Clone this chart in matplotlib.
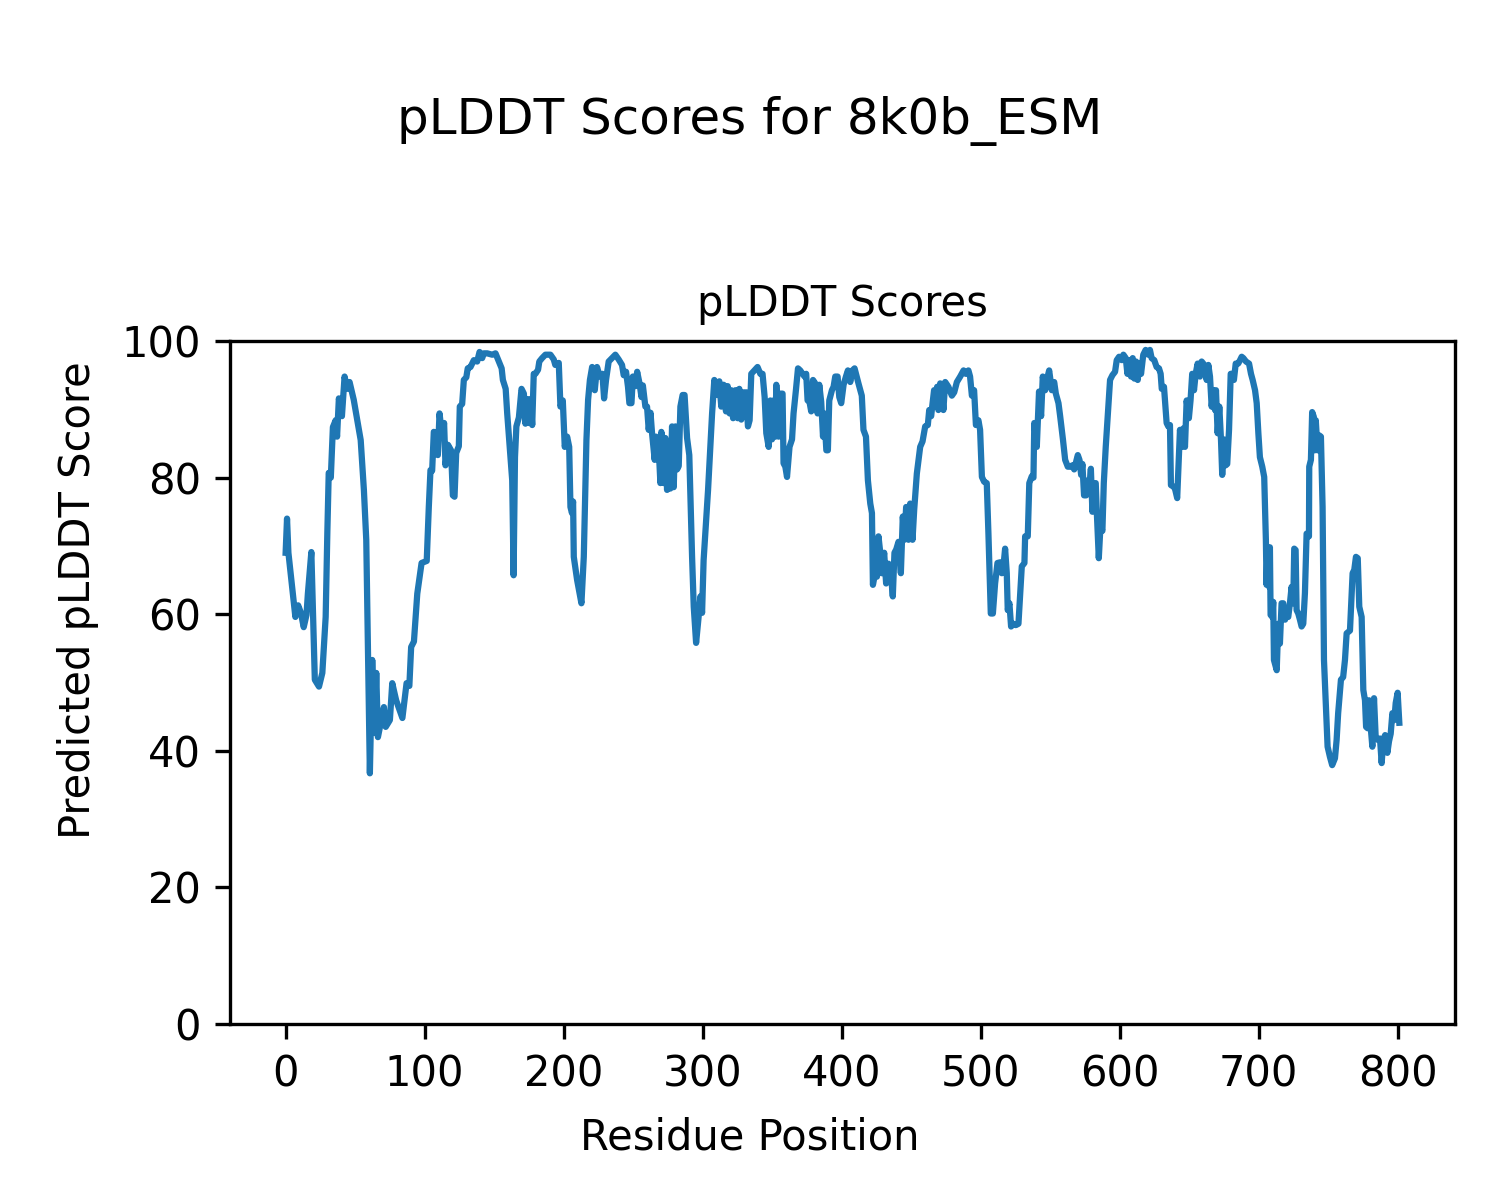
import matplotlib
matplotlib.use("Agg")
import matplotlib.pyplot as plt

# residue positions and pLDDT values
residue = [
    0, 1, 2, 3.6, 7, 9, 11, 13, 15, 16, 18.5, 21, 24, 26.4, 28.8, 30, 31, 32.5, 34, 36,
    37, 38.3, 40.5, 42.4, 44.3, 46, 49, 54, 56.3, 58, 60.6, 62.3, 64, 65.2, 66.4, 70.7, 72, 75, 76.7, 79.5,
    84, 87, 89, 90.3, 92.3, 94.7, 97.8, 101.5, 103, 104.2, 105.4, 106.6, 108, 109.5, 110.7, 112.7, 114, 115, 116.8, 119,
    120.3, 121.5, 122.7, 124.6, 125.3, 127, 128.2, 130, 131, 133, 135.4, 137.8, 139.5, 141.4, 142.6, 145, 148.6, 151, 153.4, 155.4,
    156.3, 158.3, 159.4, 161, 163, 164, 165, 166, 167.8, 169.7, 171.4, 172.5, 173.8, 175, 176.2, 177.4, 178.5, 179.7, 181.6, 182.5,
    184.5, 186.9, 190.5, 192.9, 194, 196.5, 197.7, 199.4, 200.8, 202.5, 204, 204.9, 206, 206.8, 207.3, 209.7, 212.8, 214.5, 216.4, 217.6,
    218.9, 220.5, 222.4, 224, 226, 227.9, 229.1, 230.5, 232.4, 234.8, 237.2, 239.6, 242, 243.2, 244.9, 246.3, 247.3, 248.8, 249.8, 251.7,
    252.9, 254.6, 256, 257, 258.8, 260, 261.2, 262.5, 263.6, 265.5, 266.5, 268.4, 269.6, 270.3, 272, 273.2, 274.4, 275.6, 276.8, 278,
    279.2, 280.4, 281.6, 282.8, 284, 285.6, 287, 288.8, 290.4, 292.4, 293.6, 295.3, 297.1, 298.4, 299.6, 300.7, 303.9, 306.8, 308.4, 310.4,
    312, 313.4, 315.1, 316.8, 318, 319.4, 320.6, 321.9, 323.5, 325.2, 326.4, 327.8, 329, 330.2, 331.2, 332.6, 333.8, 335, 337.2, 339.5,
    341.5, 343.1, 344.6, 345.8, 347.5, 348.7, 349.9, 351, 352.3, 353, 354.7, 355.9, 357.5, 358.2, 359.5, 360.7, 362.5, 364.3, 365.4, 367.1,
    368.6, 370.2, 371.9, 373.3, 374.5, 375.5, 376.7, 378.1, 379.4, 381, 382.7, 383.9, 385.3, 386.6, 387.5, 389, 390.1, 391.1, 393, 394.2,
    395.4, 397.1, 398.3, 399.7, 401.4, 403.1, 404.5, 406.2, 407.8, 409.3, 412.1, 414.5, 415.7, 417.5, 418.9, 420.6, 421.8, 422.5, 424.1, 425.4,
    426.5, 427.8, 429, 430.6, 432, 433.7, 435.4, 436.8, 438, 439.3, 440.9, 442.6, 444, 445.2, 446.4, 448.1, 449.3, 451, 452.2, 454.1,
    456.5, 458.2, 460.1, 462, 463, 464.4, 465.3, 466.5, 467.8, 468.7, 469.6, 470.9, 472, 473.2, 474.5, 476.8, 479.3, 481, 482.9, 485.3,
    487.7, 489.3, 491.2, 492.4, 493.7, 495.3, 496.6, 498.4, 499.6, 500.9, 502.5, 504.4, 505.6, 507.3, 508.8, 510.4, 512.1, 514, 515.2, 516.4,
    517.6, 518.8, 519.5, 520.7, 521.9, 523.6, 525.3, 527.2, 529.6, 531.5, 532, 533.9, 535, 536.8, 538, 538.6, 540.4, 542, 543.5, 544.7,
    546.4, 547.6, 549.3, 551.2, 552.9, 554.1, 556, 557.2, 559.2, 560.8, 562.7, 564.4, 566, 567.3, 568.7, 569.9, 571.1, 572.3, 573.2, 574.4,
    575.9, 577.1, 578, 579.3, 580.4, 581.6, 582.8, 583.6, 585, 586.2, 587.6, 588.6, 590, 591.5, 593.1, 594.8, 596.7, 597.9, 599.6, 601.5,
    602.7, 604.4, 605.6, 606.8, 608.2, 609.4, 610.6, 611.8, 613, 614.2, 615.4, 617, 618.7, 620.6, 621.8, 623, 624.9, 626.6, 628.3, 629.5,
    630.3, 631.9, 632.6, 633.8, 635, 636.2, 636.9, 638.6, 639.8, 641.4, 642.2, 643.4, 644.6, 645.8, 647, 648.2, 649.8, 651, 652.2, 653.5,
    654.7, 656.1, 657.8, 659, 660.2, 661.4, 662.6, 663.8, 665, 666.2, 667.4, 668.6, 669.3, 670.5, 671.7, 672.9, 673.8, 675, 676.3, 677.4,
    678.7, 679.9, 681, 682.2, 683.5, 685.3, 686.6, 687.8, 689, 690.9, 693.1, 694.5, 695.7, 697.4, 698.6, 699.8, 700.9, 702.6, 704, 705.2,
    705.7, 706.4, 707.6, 708.1, 708.6, 709.8, 710.5, 711, 713, 714.1, 715.3, 716.5, 717.7, 719, 720.1, 721.3, 722.5, 723.7, 724.9, 725.6,
    726.6, 727.3, 728.5, 729.7, 730.9, 732.1, 733.3, 734.5, 736.2, 736.4, 737.6, 738.5, 739.7, 740.4, 741.1, 742.4, 743.5, 744.8, 746, 747,
    748.4, 749.6, 751.3, 752.9, 754.9, 756.1, 757.2, 759.2, 760.8, 762.1, 763.3, 765.7, 766.9, 767.6, 768.8, 770, 771.3, 772.4, 774.1, 775.3,
    776.5, 777.3, 778.4, 779.4, 780.6, 781.8, 783, 784.2, 785.7, 787.3, 788.5, 789.7, 791, 792.6, 793.8, 795, 796.2, 797.6, 798.6, 800,
    801.2,
]

plddt = [
    69, 74, 69, 66, 59.6, 61.3, 60.2, 58.1, 59.9, 63, 69.1, 50.4, 49.4, 51.4, 59.6, 71.9, 80.7, 80, 87.4, 88.4,
    86, 91.6, 89, 94.8, 93, 94, 91.4, 85.5, 78.2, 70.9, 36.7, 53.3, 42.6, 51.4, 42, 46.4, 43.5, 44.5, 49.9, 47.4,
    44.8, 49.9, 49.5, 55.2, 56, 63, 67.5, 67.8, 75.7, 81.1, 81, 86.7, 86.6, 83.3, 89.4, 86, 88, 81.8, 84.8, 84,
    77.4, 77.2, 83.6, 84.6, 90.4, 90.8, 94.3, 94.7, 96, 96.2, 97.2, 97, 98.4, 97.5, 98.2, 98.2, 98, 98.2, 97, 96,
    94.3, 93, 89.4, 85, 79.6, 65.7, 83, 87.5, 88.8, 93, 92.3, 87.9, 91.5, 88, 91.5, 87.7, 95.2, 95.2, 95.8, 97,
    97.5, 98, 98, 97.3, 96.5, 96.8, 90.4, 91.3, 84.5, 86, 84.5, 75.7, 74.8, 76.5, 68.4, 65, 61.6, 68.4, 85.5, 91.4,
    94.3, 96.2, 92.8, 96.2, 94.8, 95.2, 91.6, 94.3, 97, 97.5, 98, 97.3, 96.5, 95, 95.5, 93.3, 90.9, 90.9, 94.8, 93.4,
    95.5, 93.8, 91.8, 93.5, 90.4, 90.4, 87, 89.5, 86.5, 82.6, 86, 84.3, 79.2, 86.7, 79.2, 85.8, 78.2, 85.3, 78.4, 87.5,
    78.6, 87.5, 81.2, 81.7, 90.4, 92.1, 92.1, 85.8, 83.3, 68.4, 61.1, 55.8, 59.6, 62.6, 60.2, 67.9, 78.2, 89.4, 94.3, 92.1,
    94.1, 90.4, 93.6, 89.7, 93.4, 89.4, 92.8, 88.7, 92.8, 88.7, 93, 88.5, 92.5, 89.7, 92.5, 87.5, 88.4, 95.2, 95.7, 96.2,
    95.2, 95.2, 91.8, 86.5, 84.5, 91.3, 85.6, 91.3, 86, 93.6, 86, 92.3, 92.3, 82.1, 81.6, 80.1, 84.5, 85.6, 89.4, 92.8,
    96, 95.7, 95.2, 94.8, 95.2, 91.3, 91.3, 89.7, 94.3, 93.8, 89.4, 93.6, 91.1, 86, 89.4, 84, 84, 91.3, 92.8, 93.3,
    94.8, 94.8, 91.8, 90.9, 93.6, 94.8, 95.7, 94, 95.7, 96, 93.8, 92, 87, 86, 79.6, 76.2, 74.8, 64.3, 66, 65.5,
    71.4, 69, 66, 69, 64.5, 67.4, 66, 62.6, 69, 69.5, 70.6, 66, 74.3, 70.9, 75.7, 70.9, 76.2, 70.9, 75.3, 80.6,
    84.5, 85.3, 87.5, 87.7, 89.9, 89, 90.7, 92.8, 90.4, 93.3, 89.9, 93.8, 92.8, 89.9, 94, 93.3, 92, 92.5, 94, 94.8,
    95.7, 95.2, 95.7, 94.8, 92, 92.8, 87.7, 88.4, 87, 80.1, 79.4, 79.2, 71.8, 60.1, 60.1, 64.5, 67.5, 67.6, 66, 67,
    69.6, 66, 60.6, 61.6, 58.2, 58.6, 58.4, 58.6, 67, 67.5, 71.4, 71.4, 79.2, 80.2, 80, 88, 84.5, 92.6, 89, 94.8,
    92.8, 94.3, 95.7, 92.8, 94, 92.3, 90.9, 89, 85.6, 82.6, 81.6, 81.6, 81.8, 81.2, 82.3, 83.3, 82.6, 80.4, 82, 77.4,
    77.4, 79.6, 78.2, 81.3, 75, 79, 79.2, 74.8, 68.2, 72.9, 72.2, 79.2, 84.5, 89.2, 94.3, 95, 95.5, 97.2, 97.7, 97.2,
    98, 97.5, 95.2, 97.2, 94.8, 97.5, 94.5, 97, 94.3, 96.7, 95.2, 98, 98.7, 98, 98.7, 97.5, 97.2, 96.2, 96, 95.2,
    93, 93.3, 91.3, 88, 87.5, 87.7, 78.9, 78.7, 78.4, 77, 80.9, 87, 84.5, 87.2, 84.5, 91.3, 88.7, 91.3, 95.2, 92.8,
    95.2, 96.7, 94.8, 97, 96.7, 95.7, 94.3, 96.5, 94.8, 90.4, 92.8, 89.9, 92.8, 86.5, 90.4, 85.6, 80.4, 85.6, 81.8, 82,
    87, 95.2, 95.2, 94.3, 96.7, 96.7, 97.2, 97.7, 97.5, 97, 96.7, 95.2, 94.3, 92.8, 90.9, 86.5, 83, 81.6, 80.1, 70.9,
    64.3, 69.8, 64, 69.8, 59.9, 59.6, 61.8, 53.3, 51.8, 58.6, 55.7, 61.6, 61.6, 59.2, 60.1, 59.6, 61.6, 64, 61.6, 69.6,
    69.4, 60.6, 60.1, 59.2, 58.2, 58.6, 63.1, 71.8, 71.4, 81.6, 82.6, 89.6, 88.9, 84, 88.4, 84, 86.2, 86, 75.7, 53.3,
    46.4, 40.6, 39.1, 37.9, 38.9, 41.6, 45.5, 50.4, 50.8, 53.3, 57.2, 57.6, 63.1, 66, 66.5, 68.4, 68.2, 61.1, 59.6, 48.9,
    47.4, 43.5, 43.3, 47.4, 43.5, 40.6, 47.7, 42, 41.6, 41.8, 38.2, 41.6, 42.3, 39.7, 41.4, 42.5, 45.5, 44.5, 47, 48.5,
    44.1,
]

fig = plt.figure(figsize=(5, 4), dpi=300)
ax = fig.add_axes([0.1533, 0.1467, 0.8167, 0.5691])
ax.plot(residue, plddt, color="#1f77b4", linewidth=1.5)
ax.set_ylim(0, 100)
ax.set_title("pLDDT Scores", fontsize=10)
fig.suptitle("pLDDT Scores for 8k0b_ESM", y=0.92)
# figure-level axis labels, centred on the figure rather than the axes
fig.text(0.5, 0.0517, "Residue Position", ha="center", va="center", fontsize=10)
fig.text(0.052, 0.5, "Predicted pLDDT Score", ha="center", va="center",
         rotation="vertical", fontsize=10)

fig.savefig("out.png", dpi=300)
